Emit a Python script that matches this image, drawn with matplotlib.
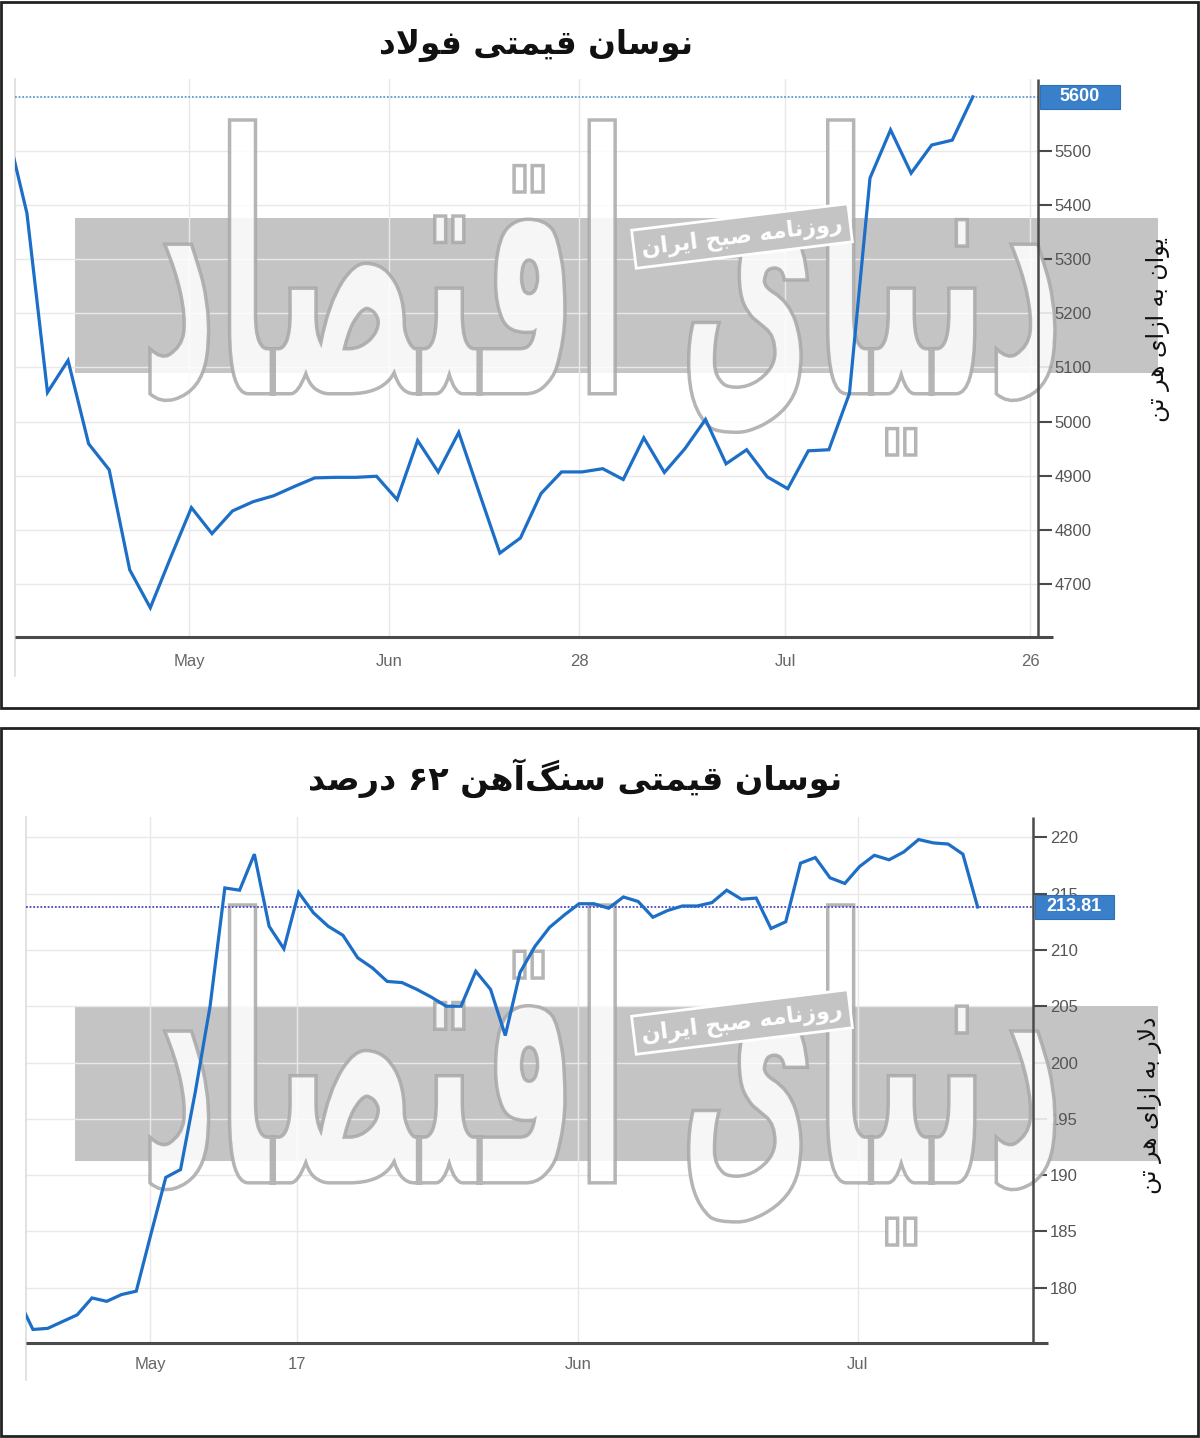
import re
import numpy as np
import matplotlib
matplotlib.use('Agg')
import matplotlib.pyplot as plt
from matplotlib.patches import Rectangle, PathPatch
from matplotlib.textpath import TextPath
from matplotlib.font_manager import FontProperties
from matplotlib.transforms import Affine2D, blended_transform_factory

# ---- data (first point sits just left of the visible window) ----
steel_prices = [5545, 5385, 5054, 5113, 4959, 4911, 4726, 4656, 4750, 4841,
                4793, 4835, 4852, 4863, 4880, 4896, 4897, 4897, 4899, 4856,
                4965, 4907, 4980, 4868, 4757, 4785, 4867, 4907, 4907, 4913,
                4893, 4970, 4906, 4950, 5004, 4922, 4948, 4898, 4876, 4946,
                4948, 5052, 5450, 5539, 5459, 5511, 5520, 5600]
steel_tick_pos = [7.88, 17.6, 26.85, 36.87, 48.78]
steel_tick_lab = ['May', 'Jun', '28', 'Jul', '26']
steel_yticks = [4700, 4800, 4900, 5000, 5100, 5200, 5300, 5400, 5500]

ore_prices = [179.0, 176.3, 176.4, 177.0, 177.6, 179.1, 178.8, 179.4, 179.7, 184.8,
              189.8, 190.5, 197.4, 205.0, 215.5, 215.3, 218.5, 212.1, 210.1, 215.1,
              213.3, 212.1, 211.3, 209.3, 208.4, 207.2, 207.1, 206.5, 205.8, 205.0,
              205.0, 208.1, 206.5, 202.4, 208.0, 210.3, 212.0, 213.1, 214.1, 214.1,
              213.7, 214.7, 214.3, 212.9, 213.5, 213.9, 213.9, 214.2, 215.3, 214.5,
              214.6, 211.9, 212.5, 217.7, 218.2, 216.4, 215.9, 217.4, 218.4, 218.0,
              218.7, 219.8, 219.5, 219.4, 218.5, 213.81]
ore_tick_pos = [7.93, 17.89, 36.92, 55.89]
ore_tick_lab = ['May', '17', 'Jun', 'Jul']
ore_yticks = [180, 185, 190, 195, 200, 205, 210, 215, 220]

title_steel = 'نوسان قیمتی فولاد'
title_ore = 'نوسان قیمتی سنگ\u200cآهن ۶۲ درصد'
ylabel_steel = 'یوان به ازای هر تن'
ylabel_ore = 'دلار به ازای هر تن'
stamp = 'روزنامه صبح ایران'
logo = 'دنیای اقتصاد'

# ---- tiny arabic shaper (matplotlib has no complex text layout) ----
FORMS = {
    'ا': ('\uFE8D', '\uFE8E', None, None), 'آ': ('\uFE81', '\uFE82', None, None),
    'ب': ('\uFE8F', '\uFE90', '\uFE91', '\uFE92'), 'ت': ('\uFE95', '\uFE96', '\uFE97', '\uFE98'),
    'ج': ('\uFE9D', '\uFE9E', '\uFE9F', '\uFEA0'), 'ح': ('\uFEA1', '\uFEA2', '\uFEA3', '\uFEA4'),
    'د': ('\uFEA9', '\uFEAA', None, None), 'ر': ('\uFEAD', '\uFEAE', None, None),
    'ز': ('\uFEAF', '\uFEB0', None, None), 'س': ('\uFEB1', '\uFEB2', '\uFEB3', '\uFEB4'),
    'ص': ('\uFEB9', '\uFEBA', '\uFEBB', '\uFEBC'), 'ف': ('\uFED1', '\uFED2', '\uFED3', '\uFED4'),
    'ق': ('\uFED5', '\uFED6', '\uFED7', '\uFED8'), 'ل': ('\uFEDD', '\uFEDE', '\uFEDF', '\uFEE0'),
    'م': ('\uFEE1', '\uFEE2', '\uFEE3', '\uFEE4'), 'ن': ('\uFEE5', '\uFEE6', '\uFEE7', '\uFEE8'),
    'ه': ('\uFEE9', '\uFEEA', '\uFEEB', '\uFEEC'), 'و': ('\uFEED', '\uFEEE', None, None),
    'ی': ('\uFBFC', '\uFBFD', '\uFBFE', '\uFBFF'), 'گ': ('\uFB92', '\uFB93', '\uFB94', '\uFB95'),
}
LAMALEF = {'ا': ('\uFEFB', '\uFEFC'), 'آ': ('\uFEF5', '\uFEF6')}


def shape(s):
    dual = lambda c: c in FORMS and FORMS[c][2] is not None
    res, i, n = [], 0, len(s)
    while i < n:
        c = s[i]
        prev_j = i > 0 and dual(s[i - 1])
        if c == 'ل' and i + 1 < n and s[i + 1] in LAMALEF:
            res.append(LAMALEF[s[i + 1]][1 if prev_j else 0])
            i += 2
            continue
        if c not in FORMS:
            res.append(c)
            i += 1
            continue
        next_j = dual(c) and i + 1 < n and s[i + 1] in FORMS
        f = FORMS[c]
        res.append(f[3] if prev_j and next_j else f[1] if prev_j else f[2] if next_j else f[0])
        i += 1
    out = ''.join(r for r in res if r != '\u200c')
    toks = re.findall(r'[0-9\u06F0-\u06F9]+|[^0-9\u06F0-\u06F9]+', out)
    return ''.join(t if t[0].isdigit() else t[::-1] for t in reversed(toks))


W, H = 1200, 1438
fig = plt.figure(figsize=(W / 100, H / 100), dpi=100)
fig.patch.set_facecolor('white')

LINE = '#1c6ec6'
GRID = '#e8e8e8'
AXC = '#4a4a4a'
BAND = '#c4c4c4'
NUMFONT = 'Liberation Sans'


def fx(px):
    return px / W


def fy(py):
    return 1 - py / H


def panel(rect_px, x, y, xlim, ylim, tpos, tlab, yticks, last_val, last_lab,
          dot_color, band_px, logo_px, stamp_px, xpad):
    l, t, r, b = rect_px
    ax = fig.add_axes([fx(l), fy(b), fx(r - l), fy(t) - fy(b)])
    ax.set_facecolor('none')
    ax.plot(x, y, color=LINE, lw=2.3, zorder=3, solid_joinstyle='miter')
    ax.set_xlim(*xlim)
    ax.set_ylim(*ylim)
    ax.set_xticks(tpos)
    ax.set_xticklabels(tlab)
    ax.set_yticks(yticks)
    ax.yaxis.tick_right()
    ax.tick_params(axis='y', direction='out', length=10, width=1.5, color=AXC,
                   labelsize=12, labelcolor='#555555', pad=2)
    ax.tick_params(axis='x', length=0, labelsize=12, labelcolor='#666666', pad=xpad)
    for lb in ax.get_xticklabels() + ax.get_yticklabels():
        lb.set_family(NUMFONT)
    ax.grid(True, color=GRID, lw=1)
    ax.set_axisbelow(True)
    for s in ax.spines.values():
        s.set_visible(False)
    # axis lines
    ax.plot([0, 1.015], [0, 0], transform=ax.transAxes, color=AXC, lw=2.2,
            clip_on=False, zorder=4, solid_capstyle='butt')
    ax.plot([1, 1], [0, 1], transform=ax.transAxes, color=AXC, lw=1.8,
            clip_on=False, zorder=4, solid_capstyle='butt')
    ax.plot([0, 0], [-0.07, 1], transform=ax.transAxes, color='#dddddd', lw=1.2,
            clip_on=False, zorder=1)
    # last value line + box
    ax.axhline(last_val, color=dot_color, lw=1.3, ls=(0, (1, 1)), zorder=2.8)
    px_per_unit = ax.bbox.height / (ylim[1] - ylim[0])
    bh = 24 / px_per_unit
    tr = blended_transform_factory(ax.transAxes, ax.transData)
    ax.add_patch(Rectangle((1.002, last_val - bh / 2), 0.078, bh, transform=tr,
                           facecolor='#3a7fc9', edgecolor='#2f6fb5', lw=0.8,
                           clip_on=False, zorder=6))
    ax.text(1.041, last_val, last_lab, transform=tr, ha='center', va='center',
            color='white', fontsize=13, fontweight='bold', family=NUMFONT, zorder=7)
    # grey band (behind axes)
    bl, bt, br, bb = band_px
    fig.patches.append(Rectangle((fx(bl), fy(bb)), fx(br - bl), fy(bt) - fy(bb),
                                 transform=fig.transFigure, facecolor=BAND,
                                 edgecolor='none', zorder=-5))
    # logo watermark stretched into its box
    fp = FontProperties(family='DejaVu Sans', weight='bold')
    tp = TextPath((0, 0), shape(logo), size=1, prop=fp)
    ext = tp.get_extents()
    ll, lt, lr, lb = logo_px
    sx = (lr - ll) / ext.width
    sy = (lb - lt) / ext.height
    trans = (Affine2D().translate(-ext.x0, -ext.y0).scale(sx, sy)
             .translate(ll, H - lb) + Affine2D().scale(1 / W, 1 / H) + fig.transFigure)
    ax.add_patch(PathPatch(tp, transform=trans, facecolor='white', edgecolor='#a8a8a8',
                           lw=2.5, alpha=0.85, clip_on=False, zorder=2.2))
    # newspaper stamp
    ax.text(fx(stamp_px[0]), fy(stamp_px[1]), shape(stamp), transform=fig.transFigure,
            ha='center', va='center', rotation=7, color='white', fontsize=16,
            fontweight='bold', family='DejaVu Sans', zorder=2.4,
            bbox=dict(boxstyle='square,pad=0.35', facecolor=BAND, edgecolor='white', lw=2))
    return ax


steel_x = np.arange(len(steel_prices)) - 1
ore_x = np.arange(len(ore_prices)) - 1

panel((15, 79, 1038, 637), steel_x, steel_prices, (-0.58, 49.17), (4602, 5633),
      steel_tick_pos, steel_tick_lab, steel_yticks, 5600, '5600', '#5b9bd5',
      (75, 218, 1158, 373), (150, 120, 1055, 455), (742, 236), 12)
panel((26, 817, 1033, 1343), ore_x, ore_prices, (-0.47, 67.75), (175.1, 221.8),
      ore_tick_pos, ore_tick_lab, ore_yticks, 213.81, '213.81', '#4848b8',
      (75, 1006, 1158, 1161), (150, 905, 1055, 1245), (742, 1022), 10)

# titles and unit labels
fig.text(fx(536), fy(45), shape(title_steel), ha='center', va='center',
         fontsize=23.5, fontweight='bold', family='DejaVu Sans', color='#111111')
fig.text(fx(575), fy(778), shape(title_ore), ha='center', va='center',
         fontsize=24, fontweight='bold', family='DejaVu Sans', color='#111111')
fig.text(fx(1158), fy(330), shape(ylabel_steel), ha='center', va='center',
         rotation=90, fontsize=17, family='DejaVu Sans', color='#111111')
fig.text(fx(1150), fy(1105), shape(ylabel_ore), ha='center', va='center',
         rotation=90, fontsize=17, family='DejaVu Sans', color='#111111')

# panel frames
for top, bot in [(2, 708), (728, 1436)]:
    fig.patches.append(Rectangle((fx(1), fy(bot)), fx(1197), fy(top) - fy(bot),
                                 transform=fig.transFigure, facecolor='none',
                                 edgecolor='#222222', lw=2, zorder=10))

fig.savefig('out.png', dpi=100)
